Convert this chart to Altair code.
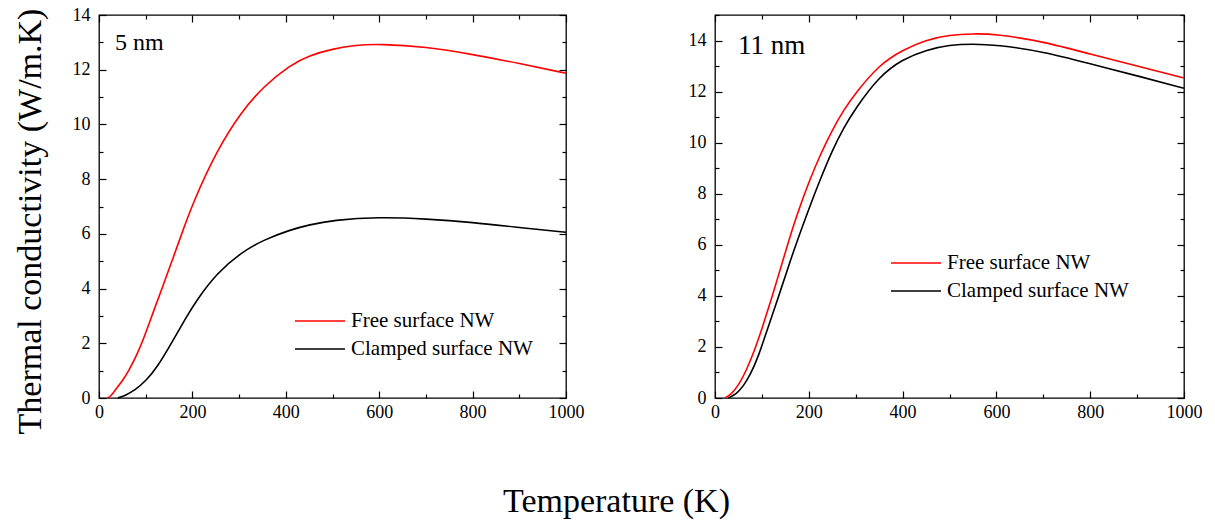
import altair as alt
import pandas as pd

FONT = "Liberation Serif"

SERIES = ["Free surface NW", "Clamped surface NW"]
COLORS = ["#ff0000", "#000000"]
PANEL_LABELS = ["5 nm", "11 nm"]

# ---- 5 nm panel ----
T_free_5 = [18, 25, 35, 50, 64, 80, 92, 113, 135, 155, 174, 200, 253, 303, 352,
            410, 450, 500, 550, 600, 700, 800, 900, 1000]
K_free_5 = [0.0, 0.06, 0.3, 0.62, 1.0, 1.55, 2.0, 3.0, 4.0, 4.95, 5.85, 7.1, 9.07,
            10.42, 11.39, 12.18, 12.52, 12.76, 12.9, 12.94, 12.84, 12.56, 12.23, 11.87]
T_clamp_5 = [40, 55, 78, 100, 124, 160, 185, 210, 253, 303, 352, 410, 450, 500,
             600, 700, 800, 900, 1000]
K_clamp_5 = [0.0, 0.08, 0.3, 0.62, 1.1, 2.15, 2.9, 3.6, 4.57, 5.3, 5.78, 6.15, 6.33,
             6.5, 6.62, 6.55, 6.42, 6.23, 6.06]

# ---- 11 nm panel ----
T_free_11 = [21, 35, 50, 65, 85, 100, 124, 145, 166, 185, 200, 225, 250, 275, 300,
             350, 400, 450, 500, 550, 600, 700, 800, 900, 1000]
K_free_11 = [0.0, 0.15, 0.5, 1.0, 1.9, 2.7, 4.1, 5.4, 6.7, 7.7, 8.45, 9.55, 10.5,
             11.3, 11.95, 13.05, 13.63, 14.03, 14.22, 14.27, 14.25, 13.96, 13.47,
             13.0, 12.53]
T_clamp_11 = [28, 45, 60, 75, 92, 110, 138, 160, 181, 200, 223, 250, 275, 300,
              350, 400, 450, 500, 550, 600, 700, 800, 900, 1000]
K_clamp_11 = [0.0, 0.15, 0.45, 0.9, 1.6, 2.6, 4.1, 5.35, 6.45, 7.4, 8.5, 9.7, 10.6,
              11.35, 12.6, 13.27, 13.63, 13.83, 13.87, 13.83, 13.57, 13.09, 12.62,
              12.13]

X_MAJOR = [0, 200, 400, 600, 800, 1000]
X_MINOR = [100, 300, 500, 700, 900]
Y_MAJOR = [0, 2, 4, 6, 8, 10, 12, 14]
Y_MINOR_5 = [1, 3, 5, 7, 9, 11, 13]
Y_MINOR_11 = [1, 3, 5, 7, 9, 11, 13, 15]


def make_df(tf, kf, tc, kc):
    a = pd.DataFrame({"T": tf, "k": kf, "s": SERIES[0]})
    b = pd.DataFrame({"T": tc, "k": kc, "s": SERIES[1]})
    return pd.concat([a, b], ignore_index=True)


def axis(orient, values, major, labels=False, **kw):
    size = 7 if major else 4
    opts = dict(orient=orient, values=values, tickSize=size, offset=-size,
                domain=False, grid=False, labels=labels, ticks=True,
                tickColor="black", tickWidth=1.2, labelFont=FONT,
                labelFontSize=18, labelColor="black", format="d",
                labelFlush=False, labelOverlap=False)
    if "title" not in kw:
        opts["title"] = None
    opts.update(kw)
    return alt.Axis(**opts)


def panel(df, ymax, yminor, tag, tag_size, tag_x, tag_y, lx, ly, w, ytitle=None):
    xs = alt.Scale(domain=[0, 1000], nice=False, zero=False)
    ys = alt.Scale(domain=[0, ymax], nice=False)
    base = alt.Chart(df)
    if ytitle:
        yax = axis("left", Y_MAJOR, True, labels=True, labelPadding=9,
                   title=ytitle, titleFont=FONT, titleFontSize=34,
                   titleFontWeight="normal", titleColor="black",
                   titlePadding=25, titleY=206)
    else:
        yax = axis("left", Y_MAJOR, True, labels=True, labelPadding=9)
    lines = base.mark_line(strokeWidth=1.6, interpolate="basis").encode(
        x=alt.X("T:Q", scale=xs,
                axis=axis("bottom", X_MAJOR, True, labels=True, labelPadding=5)),
        y=alt.Y("k:Q", scale=ys, axis=yax),
        color=alt.Color("s:N", scale=alt.Scale(domain=SERIES, range=COLORS),
                        legend=alt.Legend(orient="none", legendX=lx, legendY=ly,
                                          title=None, symbolType="stroke",
                                          symbolSize=2500, symbolStrokeWidth=1.6,
                                          labelFont=FONT, labelFontSize=21,
                                          labelColor="black", labelLimit=400,
                                          clipHeight=28, rowPadding=0,
                                          labelOffset=5, padding=0)),
    )

    def ghost(xa, ya):
        return base.mark_line(opacity=0).encode(
            x=alt.X("T:Q", scale=xs, axis=xa),
            y=alt.Y("k:Q", scale=ys, axis=ya),
            detail="s:N",
        )

    g1 = ghost(axis("bottom", X_MINOR, False), axis("left", yminor, False))
    g2 = ghost(axis("top", X_MAJOR, True), axis("right", Y_MAJOR, True))
    g3 = ghost(axis("top", X_MINOR, False), axis("right", yminor, False))

    label = alt.Chart(pd.DataFrame({"t": [tag]})).mark_text(
        align="left", baseline="alphabetic", font=FONT, fontSize=tag_size,
        color="black"
    ).encode(text="t:N", x=alt.value(tag_x), y=alt.value(tag_y))

    return alt.layer(lines, g1, g2, g3, label).resolve_axis(
        x="independent", y="independent"
    ).properties(width=w, height=383)


left = panel(make_df(T_free_5, K_free_5, T_clamp_5, K_clamp_5), 14, Y_MINOR_5,
             PANEL_LABELS[0], 24, 16, 35, 195, 292, 467,
             ytitle="Thermal conductivity (W/m.K)")
right = panel(make_df(T_free_11, K_free_11, T_clamp_11, K_clamp_11), 15, Y_MINOR_11,
              PANEL_LABELS[1], 27, 23, 39, 175, 234, 469)

chart = alt.hconcat(left, right, spacing=102).resolve_legend(
    color="independent"
).properties(
    title=alt.TitleParams("Temperature (K)", orient="bottom", anchor="middle",
                          font=FONT, fontSize=34, fontWeight="normal",
                          color="black", offset=50, dx=9),
    padding={"left": 12, "top": 5, "right": 5, "bottom": 0},
).configure(font=FONT).configure_axis(
    labelFont=FONT, titleFont=FONT
).configure_legend(labelFont=FONT).configure_view(stroke="black", strokeWidth=1.3)

chart.save("out.html", embed_options={"renderer": "svg", "actions": False})
